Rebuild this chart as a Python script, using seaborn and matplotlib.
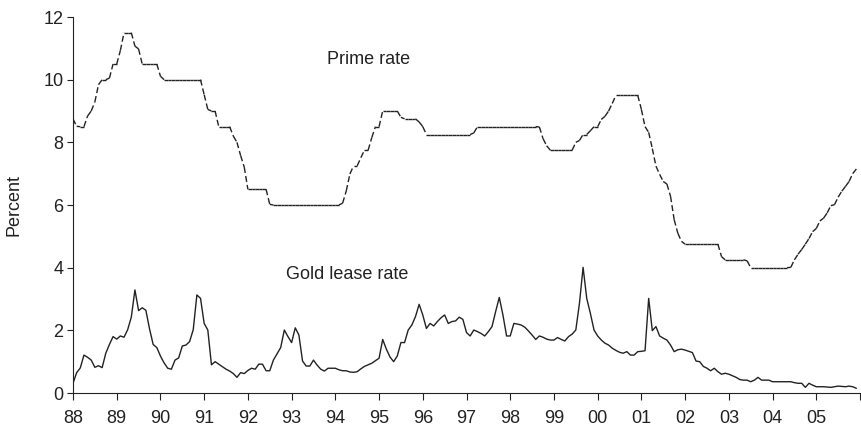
import numpy as np
import pandas as pd
import matplotlib
matplotlib.use('Agg')
from matplotlib import pyplot as plt
import seaborn as sns

# monthly values, Jan 1988 .. Dec 2005
prime_rate = [
    8.75, 8.51, 8.50, 8.50, 8.84, 9.00, 9.29, 9.84, 10.00, 10.00, 10.05, 10.50,
    10.50, 10.93, 11.50, 11.50, 11.50, 11.07, 10.98, 10.50, 10.50, 10.50, 10.50, 10.50,
    10.11, 10.00, 10.00, 10.00, 10.00, 10.00, 10.00, 10.00, 10.00, 10.00, 10.00, 10.00,
    9.52, 9.05, 9.00, 9.00, 8.50, 8.50, 8.50, 8.50, 8.20, 8.00, 7.58, 7.21,
    6.50, 6.50, 6.50, 6.50, 6.50, 6.50, 6.02, 6.00, 6.00, 6.00, 6.00, 6.00,
    6.00, 6.00, 6.00, 6.00, 6.00, 6.00, 6.00, 6.00, 6.00, 6.00, 6.00, 6.00,
    6.00, 6.00, 6.06, 6.45, 6.99, 7.25, 7.25, 7.51, 7.75, 7.75, 8.15, 8.50,
    8.50, 9.00, 9.00, 9.00, 9.00, 9.00, 8.80, 8.75, 8.75, 8.75, 8.75, 8.65,
    8.50, 8.25, 8.25, 8.25, 8.25, 8.25, 8.25, 8.25, 8.25, 8.25, 8.25, 8.25,
    8.25, 8.25, 8.30, 8.50, 8.50, 8.50, 8.50, 8.50, 8.50, 8.50, 8.50, 8.50,
    8.50, 8.50, 8.50, 8.50, 8.50, 8.50, 8.50, 8.50, 8.49, 8.12, 7.89, 7.75,
    7.75, 7.75, 7.75, 7.75, 7.75, 7.75, 8.00, 8.06, 8.25, 8.25, 8.37, 8.50,
    8.50, 8.73, 8.83, 9.00, 9.24, 9.50, 9.50, 9.50, 9.50, 9.50, 9.50, 9.50,
    9.05, 8.50, 8.32, 7.80, 7.24, 6.98, 6.75, 6.67, 6.28, 5.53, 5.10, 4.84,
    4.75, 4.75, 4.75, 4.75, 4.75, 4.75, 4.75, 4.75, 4.75, 4.75, 4.35, 4.25,
    4.25, 4.25, 4.25, 4.25, 4.25, 4.22, 4.00, 4.00, 4.00, 4.00, 4.00, 4.00,
    4.00, 4.00, 4.00, 4.00, 4.00, 4.01, 4.25, 4.43, 4.58, 4.75, 4.93, 5.15,
    5.25, 5.49, 5.58, 5.75, 5.98, 6.01, 6.25, 6.44, 6.59, 6.75, 7.00, 7.15,
]

gold_lease = [
    0.31, 0.65, 0.80, 1.21, 1.14, 1.05, 0.82, 0.87, 0.81, 1.27, 1.55, 1.80,
    1.72, 1.82, 1.78, 2.02, 2.42, 3.29, 2.63, 2.72, 2.64, 2.05, 1.55, 1.45,
    1.18, 0.96, 0.79, 0.76, 1.05, 1.12, 1.50, 1.53, 1.64, 2.02, 3.13, 3.02,
    2.22, 2.01, 0.90, 1.00, 0.92, 0.84, 0.76, 0.70, 0.62, 0.50, 0.65, 0.62,
    0.72, 0.79, 0.76, 0.92, 0.92, 0.71, 0.71, 1.05, 1.25, 1.45, 2.01, 1.80,
    1.61, 2.08, 1.85, 1.02, 0.86, 0.86, 1.05, 0.89, 0.76, 0.70, 0.79, 0.79,
    0.79, 0.74, 0.71, 0.71, 0.67, 0.66, 0.68, 0.77, 0.85, 0.90, 0.95, 1.03,
    1.11, 1.71, 1.40, 1.15, 1.00, 1.18, 1.61, 1.61, 2.01, 2.17, 2.44, 2.83,
    2.49, 2.06, 2.22, 2.14, 2.28, 2.40, 2.49, 2.22, 2.28, 2.30, 2.42, 2.35,
    1.93, 1.82, 2.01, 1.96, 1.90, 1.82, 1.96, 2.12, 2.60, 3.05, 2.49, 1.82,
    1.82, 2.22, 2.20, 2.17, 2.10, 1.98, 1.85, 1.71, 1.82, 1.78, 1.72, 1.69,
    1.69, 1.77, 1.71, 1.66, 1.80, 1.88, 2.01, 2.86, 4.01, 3.02, 2.54, 2.01,
    1.82, 1.69, 1.59, 1.53, 1.43, 1.36, 1.30, 1.27, 1.32, 1.21, 1.21, 1.32,
    1.33, 1.35, 3.02, 1.99, 2.12, 1.82, 1.75, 1.69, 1.53, 1.32, 1.38, 1.40,
    1.37, 1.33, 1.29, 1.02, 1.00, 0.85, 0.79, 0.71, 0.79, 0.68, 0.60, 0.63,
    0.60, 0.55, 0.50, 0.43, 0.41, 0.41, 0.36, 0.41, 0.50, 0.41, 0.41, 0.41,
    0.36, 0.36, 0.36, 0.36, 0.36, 0.36, 0.33, 0.31, 0.31, 0.18, 0.31, 0.25,
    0.20, 0.20, 0.20, 0.19, 0.18, 0.20, 0.22, 0.21, 0.20, 0.22, 0.20, 0.15,
]

year_ticks = list(range(1988, 2007))
tick_labels = ['88', '89', '90', '91', '92', '93', '94', '95', '96', '97',
               '98', '99', '00', '01', '02', '03', '04', '05', '']

years = 1988 + np.arange(len(prime_rate)) / 12

sns.set_style('ticks')
plt.rcParams['font.family'] = ['Liberation Sans', 'DejaVu Sans']
plt.rcParams['lines.scale_dashes'] = False

ink = '#222222'
fs = 13

fig = plt.figure(figsize=(8.61, 4.29), dpi=100)
ax = fig.add_axes([73 / 861, 36 / 429, 787 / 861, 376 / 429])

# prime rate: each monthly step is its own dashed piece, so flat runs look solid
rows = []
for i in range(len(prime_rate) - 1):
    rows.append((years[i], prime_rate[i], i))
    rows.append((years[i + 1], prime_rate[i + 1], i))
prime_df = pd.DataFrame(rows, columns=['year', 'rate', 'seg'])
sns.lineplot(data=prime_df, x='year', y='rate', units='seg', estimator=None,
             color=ink, lw=1.0, linestyle=(0, (4.3, 2.2)), ax=ax, legend=False)

gold_df = pd.DataFrame({'year': years, 'rate': gold_lease})
sns.lineplot(data=gold_df, x='year', y='rate', color=ink, lw=1.0, ax=ax)

ax.text(1994.75, 10.63, 'Prime rate', fontsize=fs, color=ink, ha='center', va='center')
ax.text(1994.27, 3.77, 'Gold lease rate', fontsize=fs, color=ink, ha='center', va='center')

ax.set_xlim(1988, 2006)
ax.set_ylim(0, 12)
ax.set_xticks(year_ticks)
ax.set_xticklabels(tick_labels)
ax.set_yticks([0, 2, 4, 6, 8, 10, 12])
ax.tick_params(axis='x', length=5, width=0.8, pad=7.5, labelsize=fs, colors=ink)
ax.tick_params(axis='y', length=4.5, width=0.8, pad=2.5, labelsize=fs, colors=ink)
ax.set_xlabel('')
ax.set_ylabel('Percent', fontsize=fs, color=ink)
ax.yaxis.set_label_coords(-0.064, 0.5)
for side in ['left', 'bottom']:
    ax.spines[side].set_color(ink)
    ax.spines[side].set_linewidth(0.8)
sns.despine(ax=ax)

fig.savefig('out.png', dpi=100)
